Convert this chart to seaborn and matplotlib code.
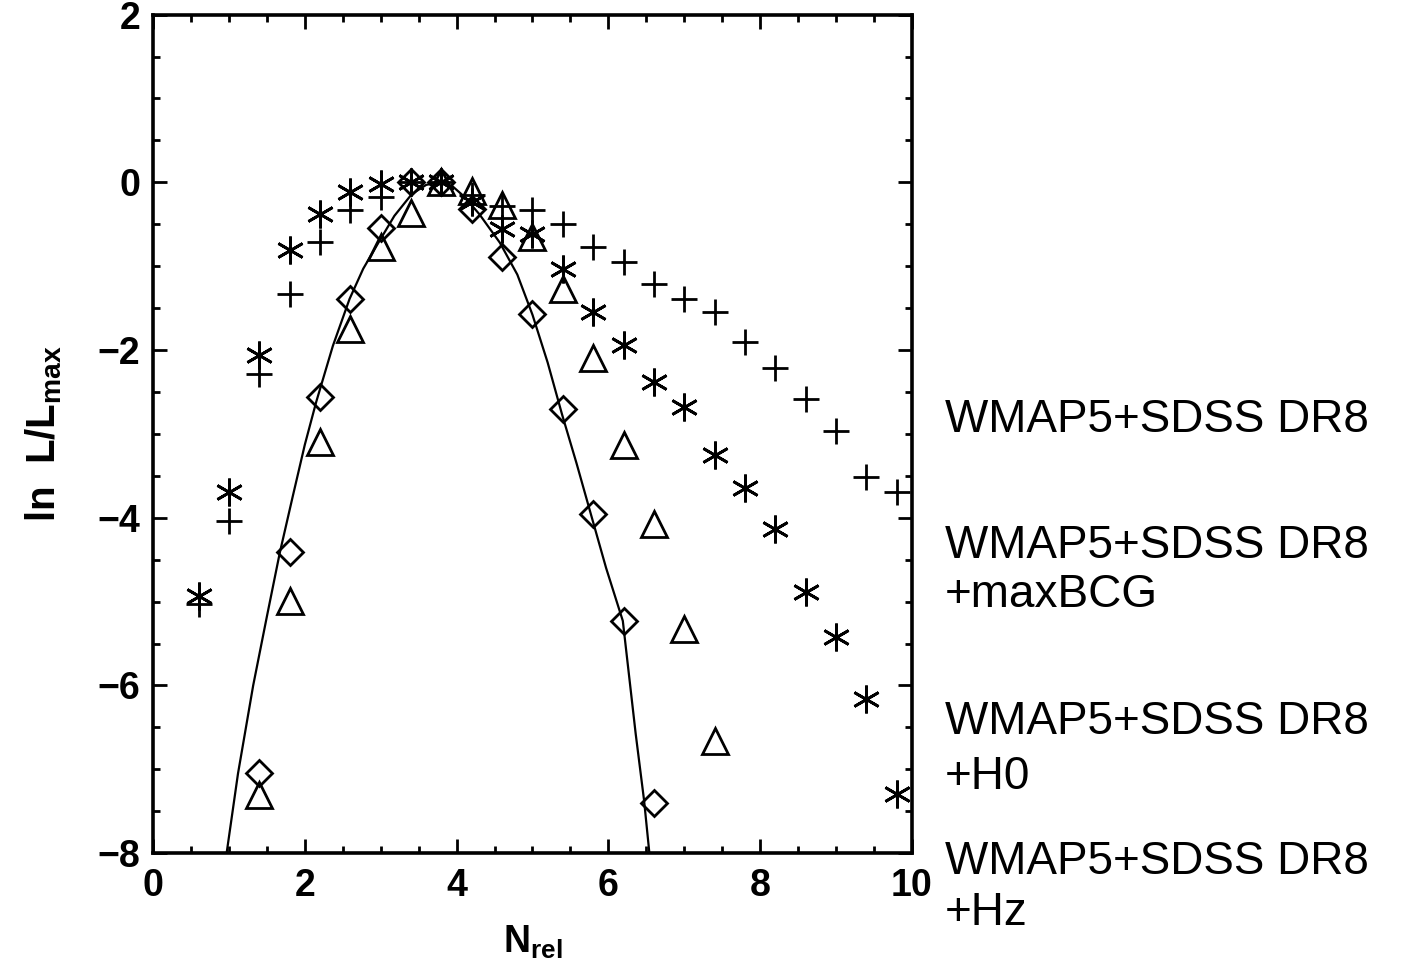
import numpy as np
import matplotlib
matplotlib.use('Agg')
import matplotlib.pyplot as plt
import seaborn as sns
from matplotlib.ticker import MultipleLocator

sns.set_style('ticks')
plt.rcParams['font.family'] = ['Liberation Sans', 'DejaVu Sans']
plt.rcParams['mathtext.fontset'] = 'custom'
plt.rcParams['mathtext.rm'] = 'Liberation Sans:bold'
plt.rcParams['mathtext.it'] = 'Liberation Sans:bold'
plt.rcParams['mathtext.bf'] = 'Liberation Sans:bold'
for key in ['text.color', 'axes.labelcolor', 'xtick.color', 'ytick.color']:
    plt.rcParams[key] = 'black'

# N_rel grid shared by all samples
n_rel = [0.6, 1.0, 1.4, 1.8, 2.2, 2.6, 3.0, 3.4, 3.8, 4.2, 4.6, 5.0,
         5.4, 5.8, 6.2, 6.6, 7.0, 7.4, 7.8, 8.2, 8.6, 9.0, 9.4, 9.8]

# WMAP5+SDSS DR8 (plus)
lnL_plus = [-5.03, -4.04, -2.28, -1.33, -0.71, -0.33, -0.18, 0.0, 0.0, -0.15,
            -0.28, -0.33, -0.50, -0.77, -0.95, -1.21, -1.39, -1.55, -1.90,
            -2.22, -2.58, -2.97, -3.51, -3.69]

# +maxBCG (asterisk)
lnL_star = [-4.93, -3.69, -2.06, -0.81, -0.38, -0.12, -0.02, 0.0, 0.0, -0.24,
            -0.56, -0.62, -1.03, -1.55, -1.94, -2.38, -2.68, -3.25, -3.65,
            -4.13, -4.88, -5.42, -6.16, -7.29]

# +H0 (triangle)
n_tri = [1.4, 1.8, 2.2, 2.6, 3.0, 3.4, 3.8, 4.2, 4.6, 5.0, 5.4, 5.8,
         6.2, 6.6, 7.0, 7.4]
lnL_tri = [-7.31, -4.99, -3.10, -1.75, -0.77, -0.36, 0.0, -0.10, -0.27,
           -0.65, -1.27, -2.10, -3.13, -4.08, -5.33, -6.66]

# +Hz (diamond)
n_dia = [1.4, 1.8, 2.2, 2.6, 3.0, 3.4, 3.8, 4.2, 4.6, 5.0, 5.4, 5.8, 6.2, 6.6]
lnL_dia = [-7.05, -4.41, -2.56, -1.39, -0.54, 0.0, 0.0, -0.32, -0.89,
           -1.57, -2.70, -3.96, -5.23, -7.40]

# solid curve
curve_x = [0.97, 1.12, 1.32, 1.50, 1.67, 1.84, 2.00, 2.15, 2.37, 2.59, 2.77,
           2.95, 3.18, 3.41, 3.60, 3.78, 3.95, 4.10, 4.30, 4.57, 4.80, 5.00,
           5.20, 5.39, 5.58, 5.77, 5.97, 6.19, 6.36, 6.47, 6.54]
curve_y = [-8.0, -7.05, -6.0, -5.18, -4.42, -3.75, -3.13, -2.62, -1.95, -1.39,
           -1.03, -0.75, -0.40, -0.14, -0.03, 0.0, -0.05, -0.17, -0.38, -0.72,
           -1.10, -1.58, -2.15, -2.77, -3.35, -3.96, -4.60, -5.23, -6.58,
           -7.37, -8.0]

labels = [
    ('WMAP5+SDSS DR8', 0.5569),
    ('WMAP5+SDSS DR8', 0.4277),
    ('+maxBCG', 0.3774),
    ('WMAP5+SDSS DR8', 0.2472),
    ('+H0', 0.1908),
    ('WMAP5+SDSS DR8', 0.1036),
    ('+Hz', 0.0513),
]

fig = plt.figure(figsize=(14.05, 9.75), dpi=100)
ax = fig.add_axes([0.1089, 0.125, 0.5402, 0.860])

sns.lineplot(x=curve_x, y=curve_y, ax=ax, color='black', linewidth=1.6,
             estimator=None, sort=False)
sns.lineplot(x=n_rel, y=lnL_plus, ax=ax, estimator=None, sort=False,
             linestyle='', marker='+', markersize=19, markeredgewidth=2.0,
             markeredgecolor='black', color='black')
sns.lineplot(x=n_rel, y=lnL_star, ax=ax, estimator=None, sort=False,
             linestyle='', marker=(6, 2, 0), markersize=20, markeredgewidth=2.0,
             markeredgecolor='black', color='black')
sns.lineplot(x=n_tri, y=lnL_tri, ax=ax, estimator=None, sort=False,
             linestyle='', marker='^', markersize=19, markeredgewidth=2.0,
             markeredgecolor='black', markerfacecolor='none', color='black')
sns.lineplot(x=n_dia, y=lnL_dia, ax=ax, estimator=None, sort=False,
             linestyle='', marker='D', markersize=13.5, markeredgewidth=2.0,
             markeredgecolor='black', markerfacecolor='none', color='black')

ax.set_xlim(0, 10)
ax.set_ylim(-8, 2)
ax.xaxis.set_major_locator(MultipleLocator(2))
ax.xaxis.set_minor_locator(MultipleLocator(0.5))
ax.yaxis.set_major_locator(MultipleLocator(2))
ax.yaxis.set_minor_locator(MultipleLocator(0.5))

for s in ax.spines.values():
    s.set_visible(True)
    s.set_linewidth(2.6)
    s.set_color('black')

ax.tick_params(which='both', direction='in', top=True, right=True,
               width=2.0, color='black')
ax.tick_params(which='major', length=10)
ax.tick_params(which='minor', length=5)
ax.tick_params(axis='x', which='major', pad=11, labelsize=27)
ax.tick_params(axis='y', which='major', pad=9, labelsize=27)
for lab in ax.get_xticklabels() + ax.get_yticklabels():
    lab.set_fontweight('bold')

ax.set_xlabel(r'N$_{\rm rel}$', fontsize=27, fontweight='bold', labelpad=14)
ax.set_ylabel(r'ln  L/L$_{\rm max}$', fontsize=29, fontweight='bold', labelpad=24)

for txt, yb in labels:
    fig.text(0.6726, yb, txt, fontsize=33, va='baseline', ha='left',
             color='black', family=['Liberation Sans', 'DejaVu Sans'])

fig.savefig('out.png', dpi=100)
